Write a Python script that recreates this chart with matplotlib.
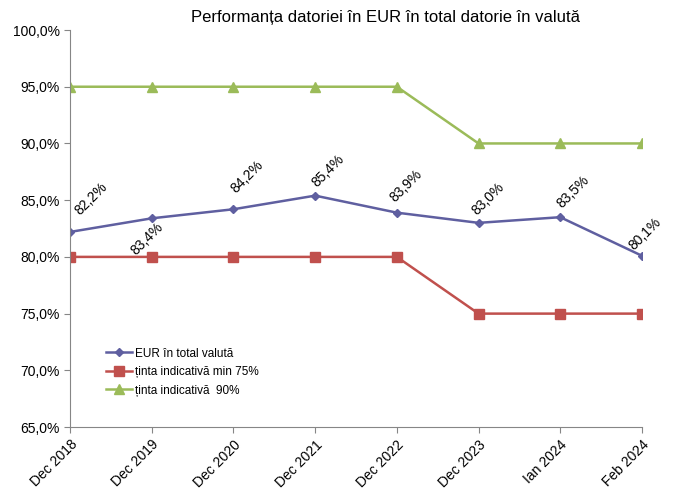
import matplotlib.pyplot as plt
from matplotlib.ticker import FuncFormatter

categories = ['Dec 2018', 'Dec 2019', 'Dec 2020', 'Dec 2021', 'Dec 2022',
              'Dec 2023', 'Ian 2024', 'Feb 2024']
eur_share = [82.2, 83.4, 84.2, 85.4, 83.9, 83.0, 83.5, 80.1]
target_min = [80, 80, 80, 80, 80, 75, 75, 75]
target_90 = [95, 95, 95, 95, 95, 90, 90, 90]

# label offsets in points (dx, dy) relative to each point
label_offsets = [(7, 12), (-11.5, -27), (1.5, 11), (1, 5.5), (-1, 7), (-1, 5.5), (1, 6.5), (-6, 4)]

plt.rcParams['font.family'] = ['Liberation Sans', 'DejaVu Sans']

fig = plt.figure(figsize=(6.76, 4.92), dpi=100)
ax = fig.add_axes([0.1036, 0.132, 0.846, 0.807])

x = list(range(len(categories)))
ax.plot(x, eur_share, color='#5F5FA0', marker='D', markersize=4, linewidth=1.8,
        label='EUR în total valută')
ax.plot(x, target_min, color='#C0504D', marker='s', markersize=6.5, linewidth=1.8,
        label='ținta indicativă min 75%')
ax.plot(x, target_90, color='#9BBB59', marker='^', markersize=6.5, linewidth=1.8,
        label='ținta indicativă  90%')

for i, v in enumerate(eur_share):
    dx, dy = label_offsets[i]
    ax.annotate(f'{v:.1f}%'.replace('.', ','), (i, v), xytext=(dx, dy),
                textcoords='offset points', rotation=45, fontsize=10,
                ha='left', va='baseline', rotation_mode='anchor')

ax.set_xlim(0, len(categories) - 1)
ax.set_ylim(65, 100)
ax.set_yticks(range(65, 101, 5))
ax.yaxis.set_major_formatter(FuncFormatter(lambda v, p: f'{v:.1f}%'.replace('.', ',')))
ax.set_xticks(x)
ax.set_xticklabels(categories, rotation=45, ha='right', rotation_mode='anchor', fontsize=10)
ax.tick_params(axis='y', labelsize=10, length=4, color='#868686')
ax.tick_params(axis='x', length=4, color='#868686')

for s in ['top', 'right']:
    ax.spines[s].set_visible(False)
for s in ['left', 'bottom']:
    ax.spines[s].set_color('#868686')

fig.text(0.57, 0.965, 'Performanța datoriei în EUR în total datorie în valută',
         fontsize=12, ha='center', va='center')

ax.legend(loc='lower left', bbox_to_anchor=(0.045, 0.05), frameon=False, fontsize=8.5,
          handlelength=2.2, labelspacing=0.55, handletextpad=0.2)

fig.savefig('out.png', dpi=100)
